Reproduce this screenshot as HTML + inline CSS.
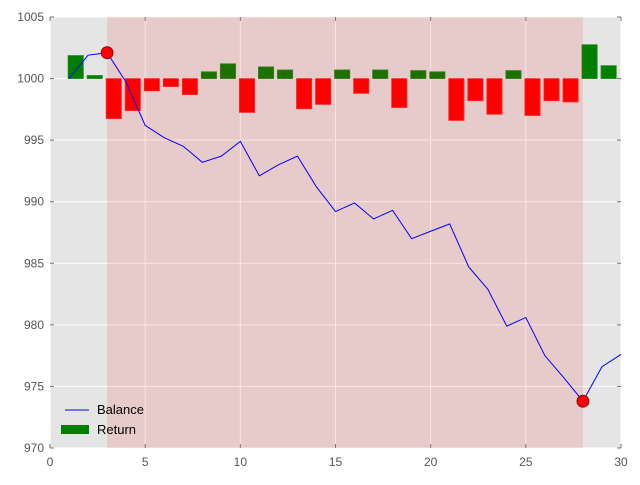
<!DOCTYPE html>
<html><head><meta charset="utf-8"><style>
body{margin:0;background:#fff;font-family:"Liberation Sans",sans-serif;}
svg text{font-family:"Liberation Sans",sans-serif;font-size:12px;fill:#555;}
</style></head><body>
<svg id="chart" width="640" height="480" xmlns="http://www.w3.org/2000/svg">
<rect x="50" y="17" width="571" height="431" fill="#e5e5e5"/>
<g id="grid"></g>
<g id="bars"></g>
<rect id="span" fill="rgba(255,0,0,0.11)"/>
<g id="line"></g>
<g id="ticks"></g>
<g>
<line x1="65" y1="410" x2="89" y2="410" stroke="#0000ff" stroke-width="1"/>
<text x="97" y="414" style="font-size:13px;fill:#000">Balance</text>
<rect x="61" y="425" width="28" height="9" fill="#008000"/>
<text x="97" y="434" style="font-size:13px;fill:#000">Return</text>
</g>
</svg>
<script>
const days=[1,2,3,4,5,6,7,8,9,10,11,12,13,14,15,16,17,18,19,20,21,22,23,24,25,26,27,28,29,30];
const balance=[1000,1001.9,1002.1,999.7,996.2,995.2,994.5,993.2,993.7,994.9,992.1,993.0,993.7,991.2,989.2,989.9,988.6,989.3,987.0,987.6,988.2,984.7,982.9,979.9,980.6,977.5,975.7,973.8,976.6,977.6];
const returns=[1.87,0.25,-3.25,-2.6,-1.0,-0.65,-1.3,0.55,1.2,-2.75,0.95,0.7,-2.45,-2.1,0.7,-1.2,0.7,-2.35,0.65,0.55,-3.4,-1.8,-2.9,0.65,-3.0,-1.8,-1.9,2.75,1.05];
const xTicks=[0,5,10,15,20,25,30];
const yTicks=[970,975,980,985,990,995,1000,1005];
const spanRange=[3,28];
const markers=[[3,1002.1],[28,973.8]];
const NS="http://www.w3.org/2000/svg";
const X=v=>50+(v/30)*571, Y=v=>448-(v-970)/35*431;
function mk(t,a,p){const e=document.createElementNS(NS,t);for(const k in a)e.setAttribute(k,a[k]);document.getElementById(p).appendChild(e);return e;}
xTicks.forEach(t=>{
 const g=mk('line',{x1:X(t),x2:X(t),y1:17,y2:448,stroke:'#fff','stroke-width':1},'grid');
 
 
 const m1=mk('line',{x1:X(t),x2:X(t),y1:444,y2:448,stroke:'#777','stroke-width':1},'ticks');
 
 
 const m2=mk('line',{x1:X(t),x2:X(t),y1:17,y2:21,stroke:'#777','stroke-width':1},'ticks');
 
 
 const l=mk('text',{x:X(t),y:466,'text-anchor':'middle'},'ticks');l.textContent=t;
 
 
});
yTicks.forEach(t=>{
 const g=mk('line',{x1:50,x2:621,y1:Y(t),y2:Y(t),stroke:'#fff','stroke-width':1},'grid');
 
 
 const m1=mk('line',{x1:50,x2:54,y1:Y(t),y2:Y(t),stroke:'#777','stroke-width':1},'ticks');
 
 
 const m2=mk('line',{x1:617,x2:621,y1:Y(t),y2:Y(t),stroke:'#777','stroke-width':1},'ticks');
 
 
 const l=mk('text',{x:44,y:Y(t)+4,'text-anchor':'end'},'ticks');l.textContent=t;
 
 
});
returns.forEach((r,i)=>{
 const d=days[i],pos=r>=0;
 const y0=Y(1000),y1=Y(1000+r);
 const b=mk('rect',{x:X(d-0.05),width:X(0.8)-50,y:Math.min(y0,y1),height:Math.abs(y1-y0),fill:pos?'#008000':'#ff0000',stroke:pos?'#2a8a2a':'#ff3030','stroke-width':0.8},'bars');
 
 
});
const s=document.getElementById('span');
s.setAttribute('x',X(spanRange[0]));s.setAttribute('width',X(spanRange[1])-X(spanRange[0]));
s.setAttribute('y',17);s.setAttribute('height',431);
const pl=mk('polyline',{points:days.map((d,i)=>X(d)+','+Y(balance[i])).join(' '),fill:'none',stroke:'#0000ff','stroke-width':1},'line');


markers.forEach(m=>{
 const c=mk('circle',{cx:X(m[0]),cy:Y(m[1]),r:6,fill:'#ff0000',stroke:'#800000','stroke-width':0.8},'line');
 
 
});
</script>
</body></html>
